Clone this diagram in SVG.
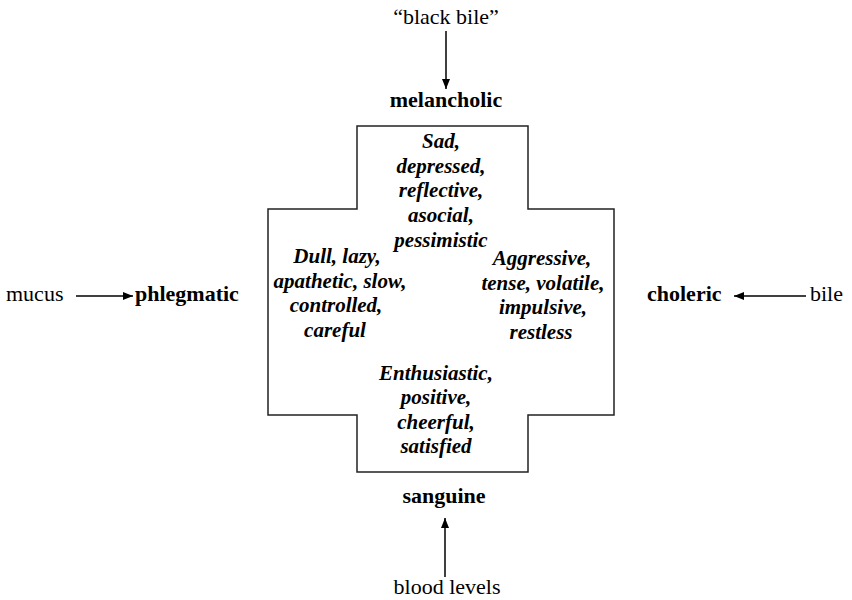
<svg xmlns="http://www.w3.org/2000/svg" width="852" height="600" viewBox="0 0 852 600">
<style>
text{font-family:"Liberation Serif","Times New Roman",serif;fill:#000}
.src{font-size:22px}
.lbl{font-size:22px;font-weight:bold}
.trait{font-size:21px;font-style:italic;font-weight:bold;text-anchor:middle}
.c{text-anchor:middle}
.conn line{stroke:#000;stroke-width:1.5}
</style>
<defs>
<marker id="ah" viewBox="0 0 10 10" refX="10" refY="5" markerWidth="10" markerHeight="10" markerUnits="userSpaceOnUse" orient="auto">
<path d="M0,1 L10,5 L0,9 Z" fill="#000"/>
</marker>
</defs>
<rect width="852" height="600" fill="#fff"/>
<g id="connectors" class="conn">
<line x1="446" y1="31" x2="446" y2="89" marker-end="url(#ah)"/>
<line x1="445" y1="577" x2="445" y2="518" marker-end="url(#ah)"/>
<line x1="76" y1="296" x2="133" y2="296" marker-end="url(#ah)"/>
<line x1="806" y1="296" x2="734" y2="296" marker-end="url(#ah)"/>
</g>
<g id="cross">
<path d="M357,126 H528 V209 H614 V415 H528 V472 H357 V415 H268 V209 H357 Z" fill="none" stroke="#222" stroke-width="1.5"/>
</g>
<g id="melancholic">
<text class="src c" x="446" y="24">“black bile”</text>
<text class="lbl c" x="446" y="107">melancholic</text>
<text class="trait" x="441" y="148">Sad,</text>
<text class="trait" x="441" y="173">depressed,</text>
<text class="trait" x="441" y="197">reflective,</text>
<text class="trait" x="441" y="222">asocial,</text>
<text class="trait" x="441" y="247">pessimistic</text>
</g>
<g id="phlegmatic">
<text class="src" x="6" y="301">mucus</text>
<text class="lbl" x="135" y="301">phlegmatic</text>
<text class="trait" x="337" y="263">Dull, lazy,</text>
<text class="trait" x="340" y="288">apathetic, slow,</text>
<text class="trait" x="336" y="312">controlled,</text>
<text class="trait" x="335" y="337">careful</text>
</g>
<g id="choleric">
<text class="lbl" x="647" y="301">choleric</text>
<text class="src" x="810" y="301">bile</text>
<text class="trait" x="542" y="265">Aggressive,</text>
<text class="trait" x="543" y="290">tense, volatile,</text>
<text class="trait" x="543" y="314">impulsive,</text>
<text class="trait" x="541" y="339">restless</text>
</g>
<g id="sanguine">
<text class="trait" x="436" y="380">Enthusiastic,</text>
<text class="trait" x="436" y="404">positive,</text>
<text class="trait" x="436" y="429">cheerful,</text>
<text class="trait" x="436" y="453">satisfied</text>
<text class="lbl c" x="444" y="503">sanguine</text>
<text class="src c" x="447" y="594">blood levels</text>
</g>
</svg>
